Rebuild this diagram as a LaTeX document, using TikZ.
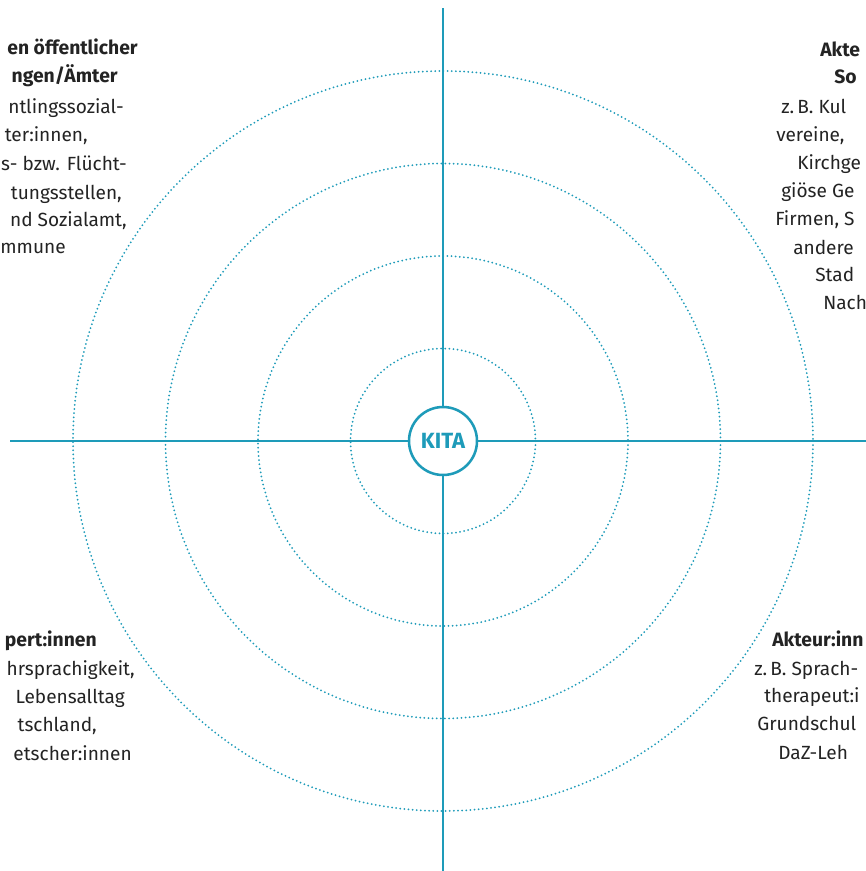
\documentclass[tikz,border=0pt]{standalone}
\usepackage{fontspec}
\setmainfont{Fira Sans}
\usetikzlibrary{positioning}
\definecolor{kitablau}{RGB}{30,155,185}
\definecolor{textgrau}{RGB}{35,35,35}
\tikzset{
  achse/.style={kitablau, line width=1.5pt},
  ring/.style={kitablau, line width=1.5pt, line cap=round, dash pattern=on 0pt off 3.1pt},
  kitakreis/.style={circle, draw=kitablau, line width=1.9pt, fill=white,
    minimum size=51pt, inner sep=0pt, text=kitablau,
    font=\bfseries\fontsize{16.5}{18}\selectfont},
  zeileL/.style={anchor=mid east, inner sep=0pt, text=textgrau,
    font=\fontsize{14.3}{17}\selectfont},
  zeileR/.style={zeileL, anchor=mid west},
  kopf/.style={font=\bfseries\fontsize{14.5}{17}\selectfont}
}

\begin{document}
\begin{tikzpicture}[x=0.75pt, y=-0.75pt]
    \useasboundingbox (0,0) rectangle (866,871);
    \clip (0,0) rectangle (866,871);

    % Mitte und Achsenenden
    \coordinate (mitte) at (443,441);
    \coordinate (oben) at (443,8);
    \coordinate (unten) at (443,871);
    \coordinate (links) at (10,441);
    \coordinate (rechts) at (866,441);

    % gepunktete Ringe
    \foreach \r in {1,...,4}
        \draw[ring] (mitte) circle[radius=92.5*\r];

    % Kita in der Mitte
    \node[kitakreis] (kita) at (mitte) {KITA};
    \draw[achse] (kita) -- (oben);
    \draw[achse] (kita) -- (unten);
    \draw[achse] (kita) -- (links);
    \draw[achse] (kita) -- (rechts);

    % oben links
    \foreach \t/\x/\y [count=\i] in {{en öffentlicher}/138/51, {ngen/Ämter}/118/79}
        \node[zeileL, kopf] (olk\i) at (\x,\y) {\t};
    \foreach \t/\x/\y [count=\i] in {{ntlingssozial-}/124/110, {ter:innen,}/88/138,
        {s- bzw. Flücht-}/127/167, {tungsstellen,}/122/196,
        {nd Sozialamt,}/127/223, {mmune}/66/250}
        \node[zeileL] (ol\i) at (\x,\y) {\t};

    % oben rechts
    \foreach \t/\x/\y [count=\i] in {{Akte}/820/53, {So}/834/80}
        \node[zeileR, kopf] (ork\i) at (\x,\y) {\t};
    \foreach \t/\x/\y [count=\i] in {{z.\,B. Kul}/781/110, {vereine,}/776/138,
        {Kirchge}/797/166, {giöse Ge}/781/194, {Firmen, S}/775/222,
        {andere}/793/251, {Stad}/815/278, {Nach}/823/306}
        \node[zeileR] (or\i) at (\x,\y) {\t};

    % unten links
    \node[zeileL, kopf] (ulk) at (97,643) {pert:innen};
    \foreach \t/\x/\y [count=\i] in {{hrsprachigkeit,}/135/672, {Lebensalltag}/125/700,
        {tschland,}/97/728, {etscher:innen}/132/757}
        \node[zeileL] (ul\i) at (\x,\y) {\t};

    % unten rechts
    \node[zeileR, kopf] (urk) at (772,643) {Akteur:inn};
    \foreach \t/\x/\y [count=\i] in {{z.\,B. Sprach-}/754/672, {therapeut:i}/764/699,
        {Grundschul}/757/727, {DaZ-Leh}/778/756}
        \node[zeileR] (ur\i) at (\x,\y) {\t};
\end{tikzpicture}
\end{document}
